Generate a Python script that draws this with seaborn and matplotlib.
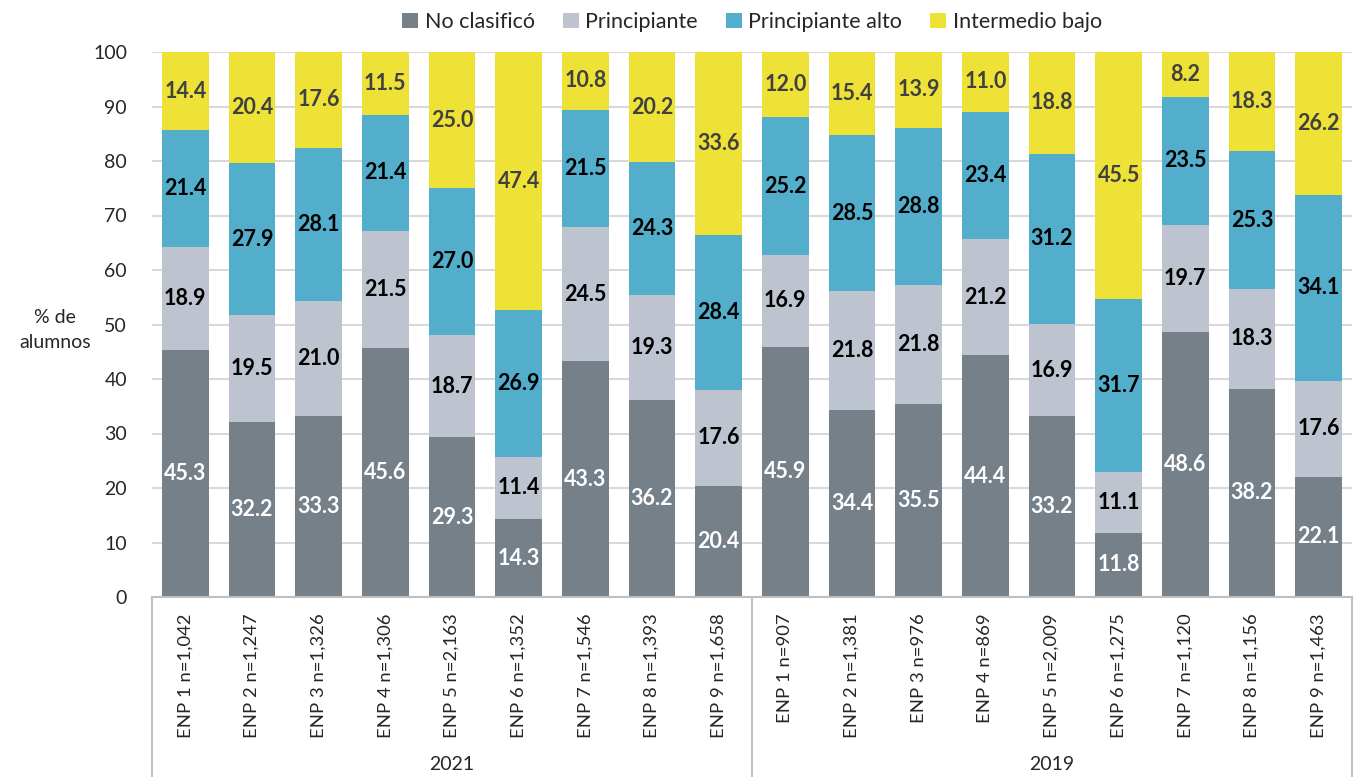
import matplotlib
matplotlib.use("Agg")
import matplotlib.pyplot as plt
import seaborn as sns
import pandas as pd
import numpy as np
from matplotlib.patches import Patch

years = ["2021"] * 9 + ["2019"] * 9
schools = ["ENP 1 n=1,042", "ENP 2 n=1,247", "ENP 3 n=1,326", "ENP 4 n=1,306", "ENP 5 n=2,163",
           "ENP 6 n=1,352", "ENP 7 n=1,546", "ENP 8 n=1,393", "ENP 9 n=1,658",
           "ENP 1 n=907", "ENP 2 n=1,381", "ENP 3 n=976", "ENP 4 n=869", "ENP 5 n=2,009",
           "ENP 6 n=1,275", "ENP 7 n=1,120", "ENP 8 n=1,156", "ENP 9 n=1,463"]
no_clasifico = [45.3, 32.2, 33.3, 45.6, 29.3, 14.3, 43.3, 36.2, 20.4,
                45.9, 34.4, 35.5, 44.4, 33.2, 11.8, 48.6, 38.2, 22.1]
principiante = [18.9, 19.5, 21.0, 21.5, 18.7, 11.4, 24.5, 19.3, 17.6,
                16.9, 21.8, 21.8, 21.2, 16.9, 11.1, 19.7, 18.3, 17.6]
principiante_alto = [21.4, 27.9, 28.1, 21.4, 27.0, 26.9, 21.5, 24.3, 28.4,
                     25.2, 28.5, 28.8, 23.4, 31.2, 31.7, 23.5, 25.3, 34.1]
intermedio_bajo = [14.4, 20.4, 17.6, 11.5, 25.0, 47.4, 10.8, 20.2, 33.6,
                   12.0, 15.4, 13.9, 11.0, 18.8, 45.5, 8.2, 18.3, 26.2]
series_names = ["No clasificó", "Principiante", "Principiante alto", "Intermedio bajo"]
group_labels = ["2021", "2019"]

colors = ["#758089", "#bdc3cf", "#52aecb", "#efe236"]
label_colors = ["white", "black", "black", "#404040"]

sns.set_theme(style="white")
plt.rcParams["font.family"] = ["Lato", "DejaVu Sans"]

df = pd.DataFrame({
    "key": [f"{y}|{s}" for y, s in zip(years, schools)],
    "school": schools,
    "year": years,
    "s0": no_clasifico, "s1": principiante, "s2": principiante_alto, "s3": intermedio_bajo,
})
vals = df[["s0", "s1", "s2", "s3"]].to_numpy()
cum = np.cumsum(vals, axis=1)
for i in range(4):
    df[f"c{i}"] = cum[:, i]

fig = plt.figure(figsize=(13.53, 7.77), dpi=100)
ax = fig.add_axes([152 / 1353, 1 - 597 / 777, 1200 / 1353, 545 / 777])

order = list(df["key"])
for i in [3, 2, 1, 0]:
    sns.barplot(data=df, x="key", y=f"c{i}", order=order, color=colors[i],
                saturation=1, width=0.7, ax=ax, edgecolor="none", linewidth=0, zorder=2)

for j in range(len(df)):
    base = 0.0
    for i in range(4):
        v = vals[j, i]
        ax.text(j, base + v / 2, f"{v:.1f}", ha="center", va="center",
                fontsize=15.5, fontweight="bold", color=label_colors[i], zorder=4)
        base += v

ax.set_ylim(0, 100)
ax.set_xlim(-0.5, len(df) - 0.5)
ax.set_yticks(range(0, 101, 10))
ax.yaxis.grid(True, color="#d9d9d9", linewidth=1.5, zorder=0)
ax.set_axisbelow(True)
ax.set_xlabel("")
ax.set_ylabel("")
ax.set_xticks(range(len(df)))
ax.set_xticklabels(schools, rotation=90, fontsize=13.3, va="top")
ax.tick_params(axis="x", length=0, pad=12)
ax.tick_params(axis="y", length=0, pad=18, labelsize=14)
for s in ["top", "right", "left"]:
    ax.spines[s].set_visible(False)
ax.spines["bottom"].set_color("#bfbfbf")
ax.spines["bottom"].set_linewidth(1.5)

trans = ax.get_xaxis_transform()
for xsep in [-0.5, 8.5, 17.5]:
    ax.plot([xsep, xsep], [0, -0.33], transform=trans, color="#bfbfbf", lw=1.5, clip_on=False)
for g, xc in zip(group_labels, [4, 13]):
    ax.text(xc, -0.308, g, transform=trans, ha="center", va="center", fontsize=14)

fig.text(55 / 1353, 1 - 330 / 777, "% de\nalumnos", ha="center", va="center", fontsize=14,
         linespacing=1.6)

handles = [Patch(facecolor=c, edgecolor="none") for c in colors]
fig.legend(handles, series_names, loc="center", bbox_to_anchor=(752 / 1353, 1 - 22 / 777),
           ncol=4, frameon=False, fontsize=15.5, handlelength=0.75, handleheight=0.75,
           handletextpad=0.3, columnspacing=1.3)

fig.savefig("out.png", dpi=100)
